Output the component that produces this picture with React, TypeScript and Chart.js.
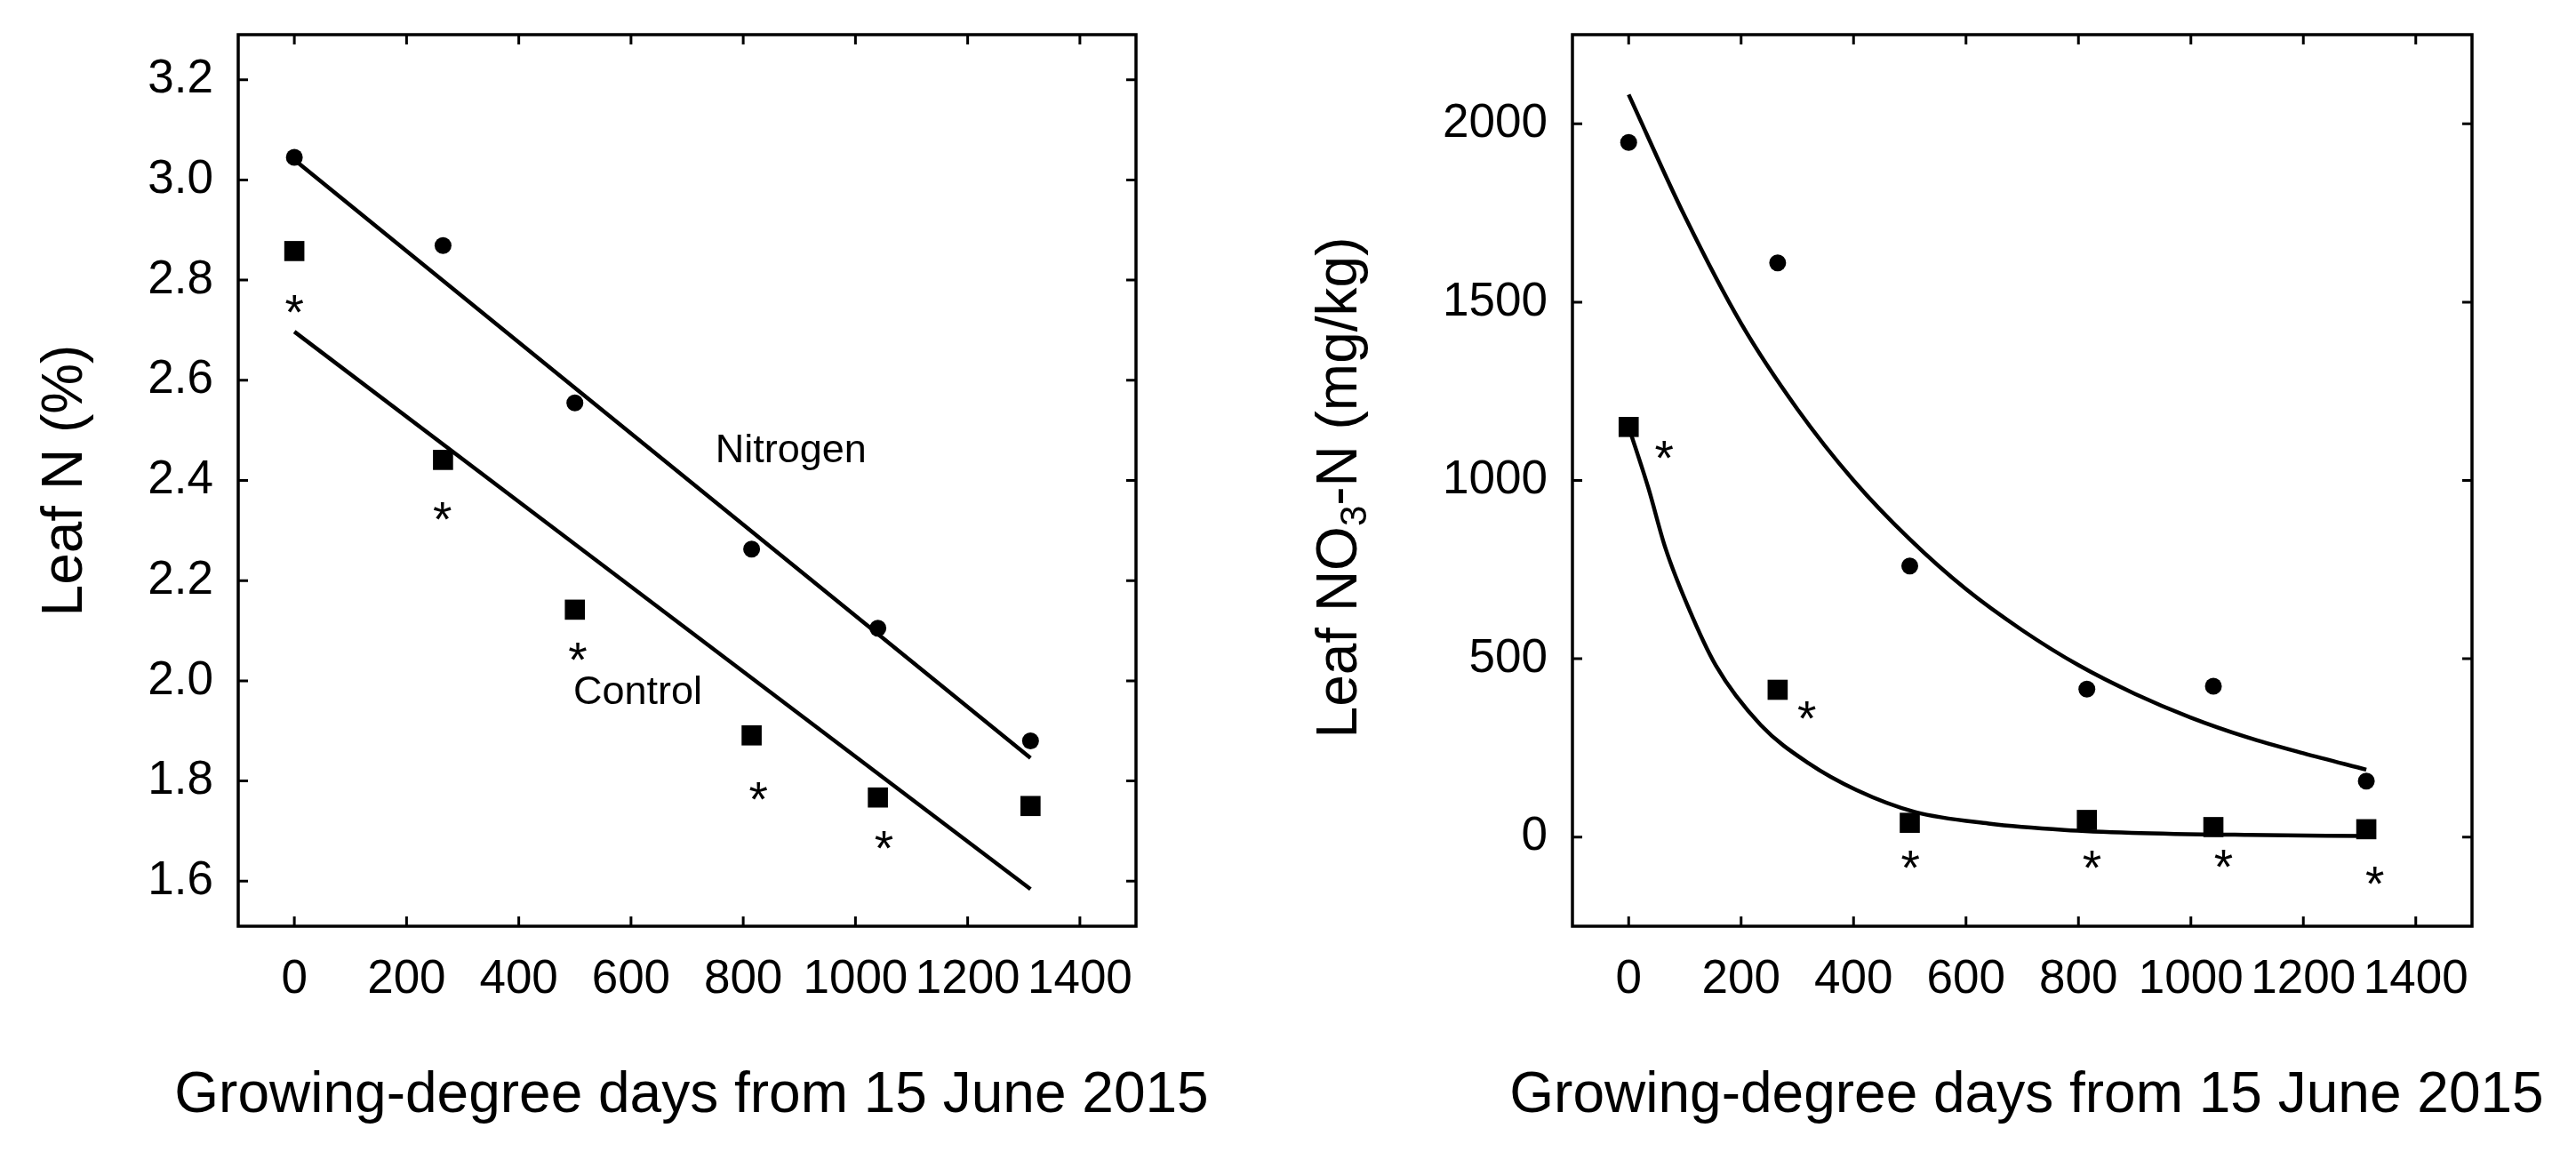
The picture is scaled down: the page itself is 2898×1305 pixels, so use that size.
import { useEffect, useRef } from "react";
import { Chart, registerables } from "chart.js";

Chart.register(...registerables);

const FONT = "Arial, 'Liberation Sans', sans-serif";

// growing-degree days of the six samplings
const gdd = [0, 265, 500, 815, 1040, 1312];
const xTicks = [0, 200, 400, 600, 800, 1000, 1200, 1400];
const xTitle = "Growing-degree days from 15 June 2015";

// left panel: leaf N (%)
const leafNNitrogen = [3.045, 2.869, 2.555, 2.263, 2.105, 1.88];
const leafNControl = [2.858, 2.441, 2.142, 1.891, 1.767, 1.75];
const leafNFitX = [0, 1312];
const leafNFitNitrogen = [3.04, 1.846];
const leafNFitControl = [2.697, 1.584];
const leafNStarX = [0, 264, 505, 827, 1051];
const leafNStarY = [2.752, 2.338, 2.058, 1.78, 1.683];
const leafNTicks = [1.6, 1.8, 2.0, 2.2, 2.4, 2.6, 2.8, 3.0, 3.2];

// right panel: leaf NO3-N (mg/kg)
const no3Nitrogen = [1948, 1610, 760, 415, 423, 157];
const no3Control = [1150, 413, 40, 48, 28, 22];
const no3CurveNX = [0, 100, 200, 300, 400, 500, 600, 700, 800, 900, 1000, 1100, 1200, 1312];
const no3CurveNY = [2082, 1740, 1440, 1200, 1000, 835, 695, 580, 482, 402, 335, 280, 235, 189];
const no3CurveCX = [0, 35, 65, 105, 155, 235, 320, 405, 510, 640, 775, 895, 1100, 1312];
const no3CurveCY = [1150, 979, 812, 648, 481, 314, 207, 132, 70, 38, 20, 12, 6, 3];
const no3StarX = [63, 317, 501, 824, 1058, 1327];
const no3StarY = [1086, 356, -62, -62, -60, -107];
const no3Ticks = [0, 500, 1000, 1500, 2000];

const pts = (xs: number[], ys: number[]) => xs.map((x, i) => ({ x, y: ys[i] }));

const framePlugin = {
  id: "frame",
  afterDraw(chart: any) {
    const { ctx, chartArea: a, scales } = chart;
    const len = 11;
    ctx.save();
    ctx.strokeStyle = "#000";
    ctx.lineWidth = 3.5;
    ctx.strokeRect(a.left, a.top, a.right - a.left, a.bottom - a.top);
    ctx.lineWidth = 3;
    ctx.beginPath();
    scales.x.ticks.forEach((t: any) => {
      const px = scales.x.getPixelForValue(t.value);
      ctx.moveTo(px, a.bottom);
      ctx.lineTo(px, a.bottom - len);
      ctx.moveTo(px, a.top);
      ctx.lineTo(px, a.top + len);
    });
    scales.y.ticks.forEach((t: any) => {
      const py = scales.y.getPixelForValue(t.value);
      ctx.moveTo(a.left, py);
      ctx.lineTo(a.left + len, py);
      ctx.moveTo(a.right, py);
      ctx.lineTo(a.right - len, py);
    });
    ctx.stroke();

    // x title, wider than the plot box, so drawn without maxWidth
    ctx.fillStyle = "#000";
    ctx.font = `64px ${FONT}`;
    ctx.textAlign = "center";
    ctx.textBaseline = "alphabetic";
    ctx.fillText(xTitle, (a.left + a.right) / 2 + 5, a.bottom + 209);
    ctx.restore();
  },
};

// draws a "*" at each point of datasets flagged with stars
const starPlugin = {
  id: "stars",
  afterDatasetsDraw(chart: any) {
    const ctx = chart.ctx;
    ctx.save();
    ctx.fillStyle = "#000";
    ctx.font = `55px ${FONT}`;
    ctx.textAlign = "center";
    ctx.textBaseline = "alphabetic";
    const m = ctx.measureText("*");
    const shift = (m.actualBoundingBoxAscent - m.actualBoundingBoxDescent) / 2;
    chart.data.datasets.forEach((ds: any, i: number) => {
      if (!ds.stars) return;
      chart.getDatasetMeta(i).data.forEach((el: any) => {
        ctx.fillText("*", el.x, el.y + shift);
      });
    });
    ctx.restore();
  },
};

const notesPlugin = {
  id: "notes",
  afterDatasetsDraw(chart: any, _args: any, opts: any) {
    if (!opts || !opts.items) return;
    const { ctx, scales } = chart;
    ctx.save();
    ctx.fillStyle = "#000";
    ctx.font = `45px ${FONT}`;
    ctx.textAlign = "center";
    ctx.textBaseline = "middle";
    opts.items.forEach((n: any) => {
      ctx.fillText(n.text, scales.x.getPixelForValue(n.x), scales.y.getPixelForValue(n.y));
    });
    ctx.restore();
  },
};

// y title with subscript 3
const no3TitlePlugin = {
  id: "no3Title",
  afterDraw(chart: any) {
    const { ctx, chartArea: a } = chart;
    const size = 64;
    const sub = 42;
    ctx.save();
    ctx.fillStyle = "#000";
    ctx.textBaseline = "middle";
    ctx.textAlign = "left";
    ctx.font = `${size}px ${FONT}`;
    const w1 = ctx.measureText("Leaf NO").width;
    const w3 = ctx.measureText("-N (mg/kg)").width;
    ctx.font = `${sub}px ${FONT}`;
    const w2 = ctx.measureText("3").width;
    ctx.translate(59, (a.top + a.bottom) / 2 + 8);
    ctx.rotate(-Math.PI / 2);
    let x = -(w1 + w2 + w3) / 2;
    ctx.font = `${size}px ${FONT}`;
    ctx.fillText("Leaf NO", x, 0);
    x += w1;
    ctx.font = `${sub}px ${FONT}`;
    ctx.fillText("3", x, 17);
    x += w2;
    ctx.font = `${size}px ${FONT}`;
    ctx.fillText("-N (mg/kg)", x, 0);
    ctx.restore();
  },
};

const xScale = () => ({
  type: "linear",
  min: -100,
  max: 1500,
  afterBuildTicks: (s: any) => {
    s.ticks = xTicks.map((value) => ({ value }));
  },
  afterFit: (s: any) => {
    s.height = 263;
    s.paddingLeft = 0;
    s.paddingRight = 0;
  },
  grid: { display: false, drawTicks: false },
  border: { display: false },
  ticks: {
    color: "#000",
    font: { family: FONT, size: 53 },
    padding: 29,
    maxRotation: 0,
    autoSkip: false,
    callback: (v: any) => String(v),
  },
});

const yScale = (min: number, max: number, ticks: number[], width: number, fmt: (v: number) => string) => ({
  type: "linear",
  min,
  max,
  afterBuildTicks: (s: any) => {
    s.ticks = ticks.map((value) => ({ value }));
  },
  afterFit: (s: any) => {
    s.width = width;
    s.paddingTop = 0;
    s.paddingBottom = 0;
  },
  grid: { display: false, drawTicks: false },
  border: { display: false },
  ticks: {
    color: "#000",
    font: { family: FONT, size: 53 },
    padding: 28,
    callback: (v: any) => fmt(Number(v)),
  },
});

const pointSet = (data: any[], style: string, r: number) => ({
  data,
  pointStyle: style,
  pointRadius: r,
  backgroundColor: "#000",
  borderColor: "#000",
  borderWidth: 0,
  showLine: false,
});

const lineSet = (data: any[]) => ({
  data,
  showLine: true,
  pointRadius: 0,
  borderColor: "#000",
  borderWidth: 4.5,
  cubicInterpolationMode: "monotone",
  fill: false,
});

const buildLeafN = () => ({
  type: "scatter",
  data: {
    datasets: [
      lineSet(pts(leafNFitX, leafNFitNitrogen)),
      lineSet(pts(leafNFitX, leafNFitControl)),
      pointSet(pts(gdd, leafNNitrogen), "circle", 9.5),
      pointSet(pts(gdd, leafNControl), "rect", 16),
      { data: pts(leafNStarX, leafNStarY), pointRadius: 0, showLine: false, stars: true },
    ],
  },
  options: {
    responsive: true,
    maintainAspectRatio: false,
    animation: false,
    events: [],
    layout: { padding: { top: 39, right: 171, left: 0, bottom: 0 } },
    plugins: {
      legend: { display: false },
      tooltip: { enabled: false },
      notes: {
        items: [
          { text: "Nitrogen", x: 885, y: 2.459 },
          { text: "Control", x: 612, y: 1.975 },
        ],
      },
    },
    scales: {
      x: xScale(),
      y: {
        ...yScale(1.51, 3.29, leafNTicks, 268, (v) => v.toFixed(1)),
        title: {
          display: true,
          text: "Leaf N (%)",
          color: "#000",
          font: { family: FONT, size: 64 },
          padding: { top: 36, bottom: 0 },
        },
      },
    },
  },
  plugins: [framePlugin, starPlugin, notesPlugin],
});

const buildNO3 = () => ({
  type: "scatter",
  data: {
    datasets: [
      lineSet(pts(no3CurveNX, no3CurveNY)),
      lineSet(pts(no3CurveCX, no3CurveCY)),
      pointSet(pts(gdd, no3Nitrogen), "circle", 9.5),
      pointSet(pts(gdd, no3Control), "rect", 16),
      { data: pts(no3StarX, no3StarY), pointRadius: 0, showLine: false, stars: true },
    ],
  },
  options: {
    responsive: true,
    maintainAspectRatio: false,
    animation: false,
    events: [],
    layout: { padding: { top: 39, right: 117, left: 0, bottom: 0 } },
    plugins: { legend: { display: false }, tooltip: { enabled: false } },
    scales: {
      x: xScale(),
      y: yScale(-250, 2250, no3Ticks, 320, (v) => String(v)),
    },
  },
  plugins: [framePlugin, starPlugin, no3TitlePlugin],
});

const ChartBox = ({ left, build }: { left: number; build: () => any }) => {
  const canvasRef = useRef<HTMLCanvasElement>(null);

  useEffect(() => {
    if (!canvasRef.current) return;
    const chart = new Chart(canvasRef.current, build());
    return () => {
      chart.destroy();
    };
  }, [build]);

  return (
    <div style={{ position: "absolute", left, top: 0, width: 1449, height: 1305 }}>
      <canvas ref={canvasRef} />
    </div>
  );
};

export default function App() {
  return (
    <div style={{ position: "absolute", left: 0, top: 0, width: 2898, height: 1305, background: "#fff" }}>
      <ChartBox left={0} build={buildLeafN} />
      <ChartBox left={1449} build={buildNO3} />
    </div>
  );
}
